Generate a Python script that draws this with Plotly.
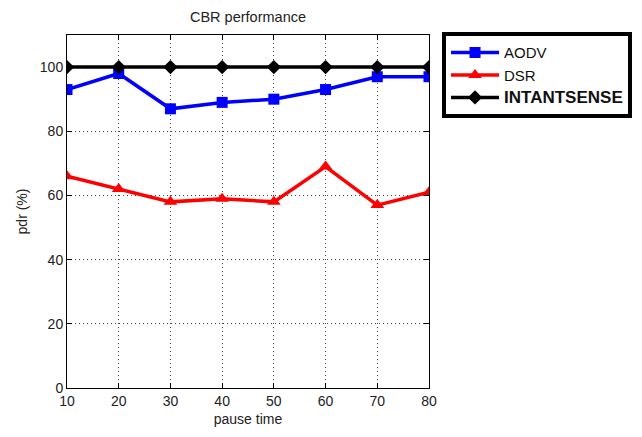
import plotly.graph_objects as go

pause_time = [10, 20, 30, 40, 50, 60, 70, 80]
aodv = [93, 98, 87, 89, 90, 93, 97, 97]
dsr = [66, 62, 58, 59, 58, 69, 57, 61]
intantsense = [100, 100, 100, 100, 100, 100, 100, 100]

fig = go.Figure()
fig.add_trace(go.Scatter(x=pause_time, y=aodv, name="AODV", mode="lines+markers",
                         line=dict(color="#0000ff", width=3.5),
                         marker=dict(symbol="square", size=11, color="#0000ff")))
fig.add_trace(go.Scatter(x=pause_time, y=dsr, name="DSR", mode="lines+markers",
                         line=dict(color="#ff0000", width=3.5),
                         marker=dict(symbol="triangle-up", size=12, color="#ff0000")))
fig.add_trace(go.Scatter(x=pause_time, y=intantsense,
                         name="<b><span style='font-size:17px'>INTANTSENSE</span></b>",
                         mode="lines+markers",
                         line=dict(color="#000000", width=3.5),
                         marker=dict(symbol="diamond", size=11, color="#000000")))

axis_common = dict(showline=True, linecolor="black", linewidth=1, mirror="allticks",
                   ticks="inside", ticklen=5, tickcolor="black",
                   showgrid=True, gridcolor="#444", griddash="1px,3px", gridwidth=1,
                   zeroline=False, tickfont=dict(size=14, color="#222"))

# page body has an 8px margin, so the figure is sized to fit the 642x437 window
W, H = 634, 429
L, R, T, B = 59, 213, 27, 49

fig.update_layout(
    width=W, height=H,
    margin=dict(l=L, r=R, t=T, b=B, autoexpand=False),
    paper_bgcolor="white", plot_bgcolor="white",
    font=dict(family="Liberation Sans, Arial, sans-serif", color="#222", size=12),
    title=dict(text="CBR performance", x=(L + (W - R)) / 2 / W, xanchor="center",
               y=1 - 9 / H, yanchor="middle", font=dict(size=14.5)),
    xaxis=dict(range=[10, 80], tickvals=pause_time,
               title=dict(text="pause time", standoff=6, font=dict(size=14)), **axis_common),
    yaxis=dict(range=[0, 110], tickvals=[0, 20, 40, 60, 80, 100],
               title=dict(text="pdr (%)", standoff=8, font=dict(size=14)), **axis_common),
    legend=dict(x=1.036, y=1.008, xanchor="left", yanchor="top",
                bordercolor="black", borderwidth=4, bgcolor="white",
                font=dict(size=15, color="#111"), tracegroupgap=0,
                itemwidth=48),
    showlegend=True,
)

fig.write_html("out.html")
